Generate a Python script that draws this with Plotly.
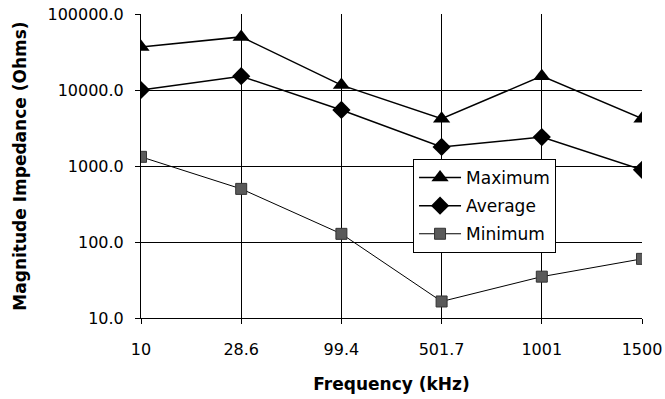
import plotly.graph_objects as go

categories = ["10", "28.6", "99.4", "501.7", "1001", "1500"]
maximum = [36800, 50000, 11600, 4200, 15200, 4200]
average = [10000, 15200, 5460, 1780, 2400, 890]
minimum = [1320, 500, 128, 16.5, 35, 60]

fig = go.Figure()
fig.add_trace(go.Scatter(x=categories, y=maximum, name="Maximum", mode="lines+markers",
                         legendgroup="a",
                         line=dict(color="black", width=1.5),
                         marker=dict(symbol="triangle-up", size=15, color="black")))
fig.add_trace(go.Scatter(x=categories, y=average, name="Average", mode="lines+markers",
                         legendgroup="b",
                         line=dict(color="black", width=1.5),
                         marker=dict(symbol="diamond", size=14, color="black")))
fig.add_trace(go.Scatter(x=categories, y=minimum, name="Minimum", mode="lines+markers",
                         legendgroup="c",
                         line=dict(color="black", width=1),
                         marker=dict(symbol="square", size=11, color="#5a5a5a",
                                     line=dict(color="#333", width=1))))

font = "DejaVu Sans, sans-serif"
fig.update_layout(
    width=665, height=399,
    margin=dict(l=141, r=23, t=14, b=81),
    paper_bgcolor="white", plot_bgcolor="white",
    font=dict(family=font, size=16, color="black"),
    showlegend=True,
    legend=dict(x=0.543, y=0.523, xanchor="left", yanchor="top",
                bgcolor="white", bordercolor="black", borderwidth=1,
                font=dict(size=17), tracegroupgap=3, itemwidth=42),
    xaxis=dict(type="category", range=[0, 5], showgrid=True, gridcolor="black", gridwidth=1,
               showline=True, linecolor="black", linewidth=1, ticks="outside", ticklen=5,
               tickcolor="black", mirror=False, automargin=False, ticklabelstandoff=12,
               title=dict(text="<b>Frequency (kHz)</b>", font=dict(size=17), standoff=19)),
    yaxis=dict(type="log", range=[1, 5], showgrid=True, gridcolor="black", gridwidth=1,
               showline=True, linecolor="black", linewidth=1, ticks="outside", ticklen=5,
               tickcolor="black", tickvals=[10, 100, 1000, 10000, 100000],
               tickformat=".1f", ticklabelstandoff=8, automargin=False,
               title=dict(text="<b>Magnitude Impedance (Ohms)</b>", font=dict(size=17), standoff=16)),
)
fig.write_html("out.html")
